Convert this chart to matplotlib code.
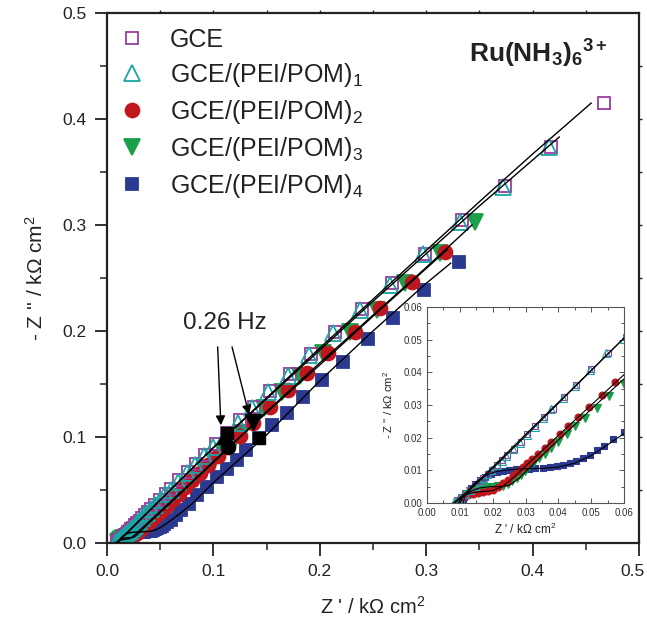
import matplotlib
matplotlib.use("Agg")
import matplotlib.pyplot as plt
from matplotlib.ticker import MultipleLocator, FormatStrFormatter, NullFormatter, FuncFormatter
from matplotlib.transforms import ScaledTranslation

plt.rcParams['font.family'] = ['Liberation Sans', 'DejaVu Sans']
plt.rcParams['mathtext.fontset'] = 'custom'
plt.rcParams['mathtext.rm'] = 'Liberation Sans'
plt.rcParams['mathtext.it'] = 'Liberation Sans:italic'
plt.rcParams['mathtext.bf'] = 'Liberation Sans:bold'

# ---------------- data (Z' , -Z'' in kOhm cm2) ----------------
labels = ['GCE', 'GCE/(PEI/POM)$_1$', 'GCE/(PEI/POM)$_2$',
          'GCE/(PEI/POM)$_3$', 'GCE/(PEI/POM)$_4$']

gce_x = [0.467, 0.417, 0.374, 0.334, 0.299, 0.268, 0.240, 0.214, 0.192, 0.172,
         0.153, 0.138, 0.125, 0.113, 0.102, 0.092, 0.084, 0.076, 0.068, 0.0605,
         0.0550, 0.0500, 0.0455, 0.0417, 0.0383, 0.0355, 0.0330, 0.0306, 0.0285,
         0.0264, 0.0244, 0.0229, 0.0213, 0.0198, 0.0185, 0.0172, 0.0160, 0.0146,
         0.0131, 0.0116, 0.0102, 0.0090]
gce_y = [0.415, 0.374, 0.337, 0.305, 0.273, 0.245, 0.221, 0.199, 0.178, 0.159,
         0.143, 0.128, 0.116, 0.104, 0.093, 0.083, 0.075, 0.067, 0.059, 0.0508,
         0.0460, 0.0410, 0.0360, 0.0323, 0.0289, 0.0262, 0.0236, 0.0211, 0.0187,
         0.0166, 0.0146, 0.0131, 0.0116, 0.0101, 0.0089, 0.0078, 0.0067, 0.0054,
         0.0041, 0.0028, 0.0016, 0.0008]

p1_x = [0.415, 0.372, 0.332, 0.297, 0.266, 0.238, 0.212, 0.190, 0.170, 0.151,
        0.136, 0.123, 0.111, 0.100, 0.091, 0.083, 0.075, 0.067, 0.0600, 0.0545,
        0.0496, 0.0451, 0.0413, 0.0379, 0.0352, 0.0328, 0.0303, 0.0283, 0.0262,
        0.0242, 0.0227, 0.0212, 0.0196, 0.0183, 0.0171, 0.0159, 0.0145, 0.0130,
        0.0115, 0.0100, 0.0088, 0.0082]
p1_y = [0.374, 0.336, 0.303, 0.273, 0.243, 0.220, 0.198, 0.177, 0.158, 0.142,
        0.127, 0.113, 0.101, 0.091, 0.082, 0.074, 0.066, 0.058, 0.0503, 0.0458,
        0.0407, 0.0358, 0.0321, 0.0287, 0.0260, 0.0234, 0.0209, 0.0185, 0.0165,
        0.0145, 0.0130, 0.0115, 0.0100, 0.0088, 0.0077, 0.0066, 0.0053, 0.0040,
        0.0027, 0.0015, 0.0007, 0.0003]

p2_x = [0.318, 0.287, 0.257, 0.233, 0.208, 0.188, 0.170, 0.153, 0.137, 0.125,
        0.114, 0.104, 0.095, 0.087, 0.080, 0.0735, 0.0675, 0.0620, 0.0573, 0.0532,
        0.0494, 0.0461, 0.0430, 0.0405, 0.0379, 0.0359, 0.0339, 0.0321, 0.0306,
        0.0293, 0.0278, 0.0262, 0.0247, 0.0232, 0.0217, 0.0201, 0.0186, 0.0171,
        0.0156, 0.0140, 0.0125, 0.0110, 0.0100, 0.0095]
p2_y = [0.275, 0.246, 0.222, 0.199, 0.179, 0.160, 0.144, 0.128, 0.113, 0.101,
        0.091, 0.082, 0.074, 0.066, 0.059, 0.0525, 0.0465, 0.0415, 0.0371, 0.0330,
        0.0295, 0.0262, 0.0236, 0.0212, 0.0188, 0.0168, 0.0151, 0.0134, 0.0122,
        0.0110, 0.0097, 0.0085, 0.0071, 0.0060, 0.0049, 0.0041, 0.0036, 0.0034,
        0.0032, 0.0029, 0.0025, 0.0019, 0.0012, 0.0005]

p3_x = [0.346, 0.313, 0.280, 0.254, 0.228, 0.203, 0.181, 0.164, 0.148, 0.137,
        0.127, 0.118, 0.109, 0.1005, 0.0925, 0.0850, 0.0780, 0.0715, 0.0655, 0.0600,
        0.0555, 0.0517, 0.0481, 0.0451, 0.0425, 0.0400, 0.0379, 0.0359, 0.0342,
        0.0325, 0.0311, 0.0298, 0.0285, 0.0273, 0.0260, 0.0246, 0.0232, 0.0217,
        0.0202, 0.0188, 0.0174, 0.0160, 0.0146, 0.0132, 0.0119, 0.0108, 0.0100]
p3_y = [0.303, 0.274, 0.245, 0.220, 0.199, 0.179, 0.158, 0.142, 0.127, 0.114,
        0.104, 0.0945, 0.0855, 0.0770, 0.0690, 0.0615, 0.0545, 0.0480, 0.0420, 0.0363,
        0.0329, 0.0291, 0.0261, 0.0235, 0.0211, 0.0188, 0.0168, 0.0151, 0.0137,
        0.0124, 0.0112, 0.0099, 0.0087, 0.0076, 0.0066, 0.0058, 0.0053, 0.0051,
        0.0050, 0.0050, 0.0049, 0.0047, 0.0043, 0.0036, 0.0027, 0.0016, 0.0007]

p4_x = [0.331, 0.298, 0.269, 0.245, 0.222, 0.202, 0.184, 0.169, 0.155, 0.143,
        0.131, 0.122, 0.1125, 0.103, 0.094, 0.085, 0.077, 0.070, 0.065, 0.0600,
        0.0567, 0.0539, 0.0517, 0.0496, 0.0474, 0.0454, 0.0435, 0.0415, 0.0395,
        0.0374, 0.0352, 0.0330, 0.0310, 0.0290, 0.0270, 0.0250, 0.0230, 0.0212,
        0.0195, 0.0178, 0.0162, 0.0147, 0.0133, 0.0122, 0.0114, 0.0110]
p4_y = [0.265, 0.239, 0.212, 0.192, 0.171, 0.154, 0.138, 0.123, 0.111, 0.099,
        0.088, 0.078, 0.070, 0.062, 0.053, 0.045, 0.037, 0.031, 0.026, 0.0216,
        0.0195, 0.0175, 0.0161, 0.0147, 0.0137, 0.0129, 0.0122, 0.0117, 0.0112,
        0.0110, 0.0107, 0.0106, 0.0105, 0.0104, 0.0103, 0.0101, 0.0098, 0.0094,
        0.0088, 0.0080, 0.0070, 0.0058, 0.0045, 0.0032, 0.0019, 0.0008]

# fitted curves (equivalent circuit fits)
gce_fit_x = [0.0085, 0.012, 0.020, 0.030, 0.045, 0.060, 0.100, 0.150, 0.200, 0.250, 0.300, 0.350, 0.400, 0.455]
gce_fit_y = [0.0, 0.0030, 0.0105, 0.0205, 0.0355, 0.0505, 0.090, 0.137, 0.184, 0.230, 0.276, 0.322, 0.367, 0.415]
p1_fit_x = [0.0080, 0.012, 0.020, 0.030, 0.045, 0.060, 0.100, 0.150, 0.200, 0.250, 0.300, 0.350, 0.425]
p1_fit_y = [0.0, 0.0033, 0.0110, 0.0210, 0.0357, 0.0505, 0.090, 0.136, 0.182, 0.228, 0.273, 0.318, 0.383]
p2_fit_x = [0.0095, 0.0105, 0.012, 0.014, 0.017, 0.020, 0.023, 0.026, 0.030, 0.035, 0.040, 0.050, 0.060, 0.080, 0.100, 0.150, 0.200, 0.250, 0.300, 0.320]
p2_fit_y = [0.0, 0.0015, 0.0026, 0.0032, 0.0035, 0.0038, 0.0050, 0.0075, 0.0113, 0.0160, 0.0207, 0.0300, 0.0393, 0.0580, 0.0770, 0.123, 0.168, 0.214, 0.259, 0.277]
p3_fit_x = [0.0100, 0.011, 0.013, 0.016, 0.019, 0.022, 0.025, 0.028, 0.031, 0.035, 0.040, 0.050, 0.060, 0.080, 0.100, 0.150, 0.200, 0.250, 0.300, 0.343]
p3_fit_y = [0.0, 0.0018, 0.0035, 0.0046, 0.0050, 0.0050, 0.0054, 0.0075, 0.0105, 0.0145, 0.0193, 0.0287, 0.0380, 0.0570, 0.0760, 0.124, 0.170, 0.215, 0.260, 0.300]
p4_fit_x = [0.0110, 0.0115, 0.013, 0.015, 0.018, 0.021, 0.025, 0.030, 0.035, 0.040, 0.045, 0.050, 0.055, 0.060, 0.070, 0.080, 0.100, 0.150, 0.200, 0.250, 0.300, 0.323]
p4_fit_y = [0.0, 0.0020, 0.0045, 0.0066, 0.0085, 0.0096, 0.0102, 0.0105, 0.0106, 0.0110, 0.0122, 0.0145, 0.0178, 0.0213, 0.0290, 0.0370, 0.0570, 0.102, 0.153, 0.200, 0.245, 0.264]

# index of the 0.26 Hz point in each series
hz_idx = [13, 12, 10, 9, 9]

xs = [gce_x, p1_x, p2_x, p3_x, p4_x]
ys = [gce_y, p1_y, p2_y, p3_y, p4_y]
fxs = [gce_fit_x, p1_fit_x, p2_fit_x, p3_fit_x, p4_fit_x]
fys = [gce_fit_y, p1_fit_y, p2_fit_y, p3_fit_y, p4_fit_y]

markers = ['s', '^', 'o', 'v', 's']
colors = ['#9b3c9e', '#1aa6a4', '#c0161e', '#1a9f4a', '#2b3990']
filled = [False, False, True, True, True]
ms_main = [8.5, 11.5, 10, 12, 9]
ms_ins = [4.5, 5.5, 5, 5.5, 5]

fig = plt.figure(figsize=(6.47, 6.38), dpi=100)
ax = fig.add_axes([0.1654, 0.1489, 0.8223, 0.8307])

order = [4, 3, 2, 0, 1]
handles = [None] * 5
for i in order:
    fc = colors[i] if filled[i] else 'none'
    h, = ax.plot(xs[i], ys[i], linestyle='none', marker=markers[i], ms=ms_main[i],
                 mfc=fc, mec=colors[i], mew=1.3, label=labels[i], zorder=2)
    handles[i] = h
for i in order:
    k = hz_idx[i]
    ax.plot([xs[i][k]], [ys[i][k]], linestyle='none', marker=markers[i], ms=ms_main[i],
            mfc='black', mec='black', zorder=3)
for i in range(5):
    ax.plot(fxs[i], fys[i], color='black', lw=1.0, zorder=4)

ax.set_xlim(0, 0.5)
ax.set_ylim(0, 0.5)
ax.xaxis.set_major_locator(MultipleLocator(0.1))
ax.xaxis.set_minor_locator(MultipleLocator(0.05))
ax.yaxis.set_major_locator(MultipleLocator(0.1))
ax.yaxis.set_minor_locator(MultipleLocator(0.05))
# the 0.5 label at the right edge is drawn separately so it stays inside the figure
ax.xaxis.set_major_formatter(FuncFormatter(lambda v, p: '' if v > 0.45 else f'{v:.1f}'))
ax.yaxis.set_major_formatter(FormatStrFormatter('%.1f'))
ax.tick_params(which='major', direction='out', length=9, width=1.3, labelsize=12.5,
               color='#222222', labelcolor='#222222', pad=6)
ax.tick_params(which='minor', direction='out', length=5, width=1.1, color='#222222')
for s in ax.spines.values():
    s.set_linewidth(1.6)
    s.set_color('#222222')
ax.text(1.0, 0.0, '0.5',
        transform=ax.transAxes + ScaledTranslation(0.06, -15 / 72, fig.dpi_scale_trans),
        ha='right', va='top', fontsize=12.5, color='#222222')

# small ticks on top and right spines
for sec in (ax.secondary_xaxis('top'), ax.secondary_yaxis('right')):
    sec.set_ticks([0.05, 0.1, 0.15, 0.2, 0.25, 0.3, 0.35, 0.4, 0.45])
    sec.tick_params(direction='out', length=2.5, width=1.0, color='#222222',
                    labelsize=0)
    sec.xaxis.set_major_formatter(NullFormatter())
    sec.yaxis.set_major_formatter(NullFormatter())
    sec.spines[:].set_visible(False)

ax.set_xlabel("Z ' / k\u03a9 cm$^2$", fontsize=14.5, labelpad=12, color='#222222')
ax.set_ylabel("- Z '' / k\u03a9 cm$^2$", fontsize=15, labelpad=11, color='#222222')

leg = ax.legend(handles=handles, loc='upper left', frameon=False, fontsize=18,
                bbox_to_anchor=(0.0, 0.994), borderaxespad=0.27, handletextpad=1.02,
                labelspacing=0.36, handlelength=1.02, borderpad=0.2)
for t in leg.get_texts():
    t.set_color('#222222')

ax.text(0.942, 0.922, r'$\mathbf{Ru(NH_3)_6{}^{3+}}$', transform=ax.transAxes,
        ha='right', va='center', fontsize=19, color='#222222')

ax.annotate('', xy=(0.107, 0.111), xytext=(0.104, 0.185),
            arrowprops=dict(arrowstyle='-|>', color='black', lw=1.0,
                            mutation_scale=14, shrinkA=0, shrinkB=0))
ax.annotate('', xy=(0.1335, 0.121), xytext=(0.1175, 0.185),
            arrowprops=dict(arrowstyle='-|>', color='black', lw=1.0,
                            mutation_scale=14, shrinkA=0, shrinkB=0))
ax.text(0.111, 0.2075, '0.26 Hz', ha='center', va='center', fontsize=17.5, color='#222222')

# ---------------- inset ----------------
axi = fig.add_axes([0.660, 0.2116, 0.3045, 0.3072])
for i in order:
    fc = colors[i] if filled[i] else 'none'
    axi.plot(xs[i], ys[i], linestyle='none', marker=markers[i], ms=ms_ins[i],
             mfc=fc, mec=colors[i], mew=0.8, zorder=2)
for i in range(5):
    axi.plot(fxs[i], fys[i], color='black', lw=0.8, zorder=4)
axi.set_xlim(0, 0.06)
axi.set_ylim(0, 0.06)
axi.xaxis.set_major_locator(MultipleLocator(0.01))
axi.xaxis.set_minor_locator(MultipleLocator(0.005))
axi.yaxis.set_major_locator(MultipleLocator(0.01))
axi.yaxis.set_minor_locator(MultipleLocator(0.005))
axi.xaxis.set_major_formatter(FormatStrFormatter('%.2f'))
axi.yaxis.set_major_formatter(FormatStrFormatter('%.2f'))
axi.tick_params(which='both', direction='in', top=True, right=True, labelsize=7,
                color='#555555', labelcolor='#333333', width=0.7)
axi.tick_params(which='major', length=3.5)
axi.tick_params(which='minor', length=2)
for s in axi.spines.values():
    s.set_linewidth(0.8)
    s.set_color('#555555')
axi.set_xlabel("Z ' / k\u03a9 cm$^2$", fontsize=8.5, labelpad=3, color='#222222')
axi.set_ylabel("- Z '' / k\u03a9 cm$^2$", fontsize=8, labelpad=6, color='#222222')

fig.savefig('out.png', dpi=100)
